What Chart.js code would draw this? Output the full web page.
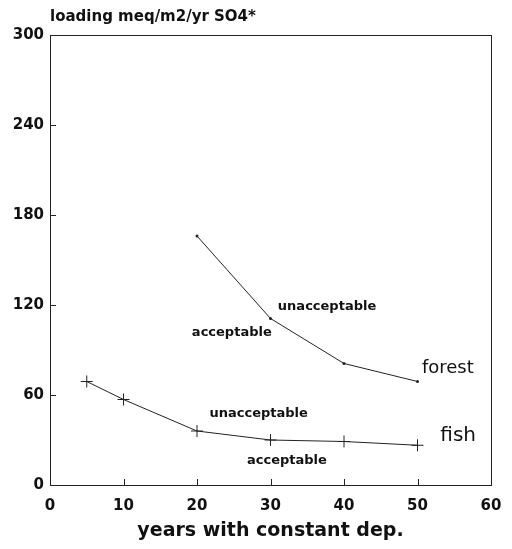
<!DOCTYPE html>
<html>
<head>
<meta charset="utf-8">
<script src="https://cdn.jsdelivr.net/npm/chart.js@4/dist/chart.umd.min.js"></script>
<style>
  html, body { margin: 0; padding: 0; background: #fff; }
  #chart { display: block; }
</style>
</head>
<body>
<canvas id="chart" width="512" height="549"></canvas>
<script>
// values
const fishYears = [5, 10, 20, 30, 40, 50];
const fishLoading = [69, 57, 36, 30, 29, 26.5];
const forestYears = [20, 30, 40, 50];
const forestLoading = [166, 111, 81, 69];

const xTicks = [0, 10, 20, 30, 40, 50, 60];
const yTicks = [0, 60, 120, 180, 240, 300];

// text labels placed in data coordinates
const notes = [
    { text: "unacceptable", x: 31.0, y: 119, size: 13, weight: "bold" },
    { text: "acceptable", x: 19.3, y: 101.5, size: 13, weight: "bold" },
    { text: "forest", x: 50.6, y: 78, size: 18, weight: "normal" },
    { text: "unacceptable", x: 21.7, y: 47.5, size: 13, weight: "bold" },
    { text: "acceptable", x: 26.8, y: 16, size: 13, weight: "bold" },
    { text: "fish", x: 53.1, y: 33, size: 20, weight: "normal" },
];

const FONT = "'DejaVu Sans', 'Liberation Sans', Arial, sans-serif";

const frameAndTicks = {
    id: "frameAndTicks",
    afterDatasetsDraw(chart) {
        const { ctx, chartArea: a, scales } = chart;
        ctx.save();
        ctx.strokeStyle = "#222";
        ctx.lineWidth = 1;
        ctx.strokeRect(a.left + 0.5, a.top + 0.5, a.right - a.left, a.bottom - a.top);
        ctx.beginPath();
        yTicks.slice(1, -1).forEach((v) => {
            const y = Math.round(scales.y.getPixelForValue(v)) + 0.5;
            ctx.moveTo(a.left, y);
            ctx.lineTo(a.left + 6, y);
        });
        xTicks.slice(1, -1).forEach((v) => {
            const x = Math.round(scales.x.getPixelForValue(v)) + 0.5;
            ctx.moveTo(x, a.bottom);
            ctx.lineTo(x, a.bottom - 6);
        });
        ctx.stroke();

        ctx.fillStyle = "#111";
        ctx.textBaseline = "middle";
        ctx.textAlign = "left";
        notes.forEach((n) => {
            ctx.font = `${n.weight} ${n.size}px ${FONT}`;
            ctx.fillText(n.text, scales.x.getPixelForValue(n.x), scales.y.getPixelForValue(n.y));
        });

        ctx.font = `bold 15px ${FONT}`;
        ctx.fillText("loading meq/m2/yr SO4*", a.left, 17);
        ctx.restore();
    },
};

new Chart(document.getElementById("chart"), {
    type: "scatter",
    data: {
        datasets: [
            {
                label: "fish",
                data: fishYears.map((x, i) => ({ x, y: fishLoading[i] })),
                showLine: true,
                borderColor: "#222",
                borderWidth: 1,
                pointStyle: "cross",
                pointRadius: 6,
                pointBorderColor: "#222",
                pointBorderWidth: 1,
            },
            {
                label: "forest",
                data: forestYears.map((x, i) => ({ x, y: forestLoading[i] })),
                showLine: true,
                borderColor: "#222",
                borderWidth: 1,
                pointStyle: "circle",
                pointRadius: 1.5,
                pointBackgroundColor: "#222",
                pointBorderColor: "#222",
                pointBorderWidth: 0,
            },
        ],
    },
    options: {
        responsive: false,
        animation: false,
        layout: { padding: { top: 35, right: 21, left: 0, bottom: 0 } },
        plugins: { legend: { display: false }, tooltip: { enabled: false } },
        scales: {
            x: {
                type: "linear",
                min: 0,
                max: 60,
                afterBuildTicks: (s) => { s.ticks = xTicks.map((v) => ({ value: v })); },
                afterFit: (s) => { s.height = 64; s.paddingLeft = 0; s.paddingRight = 0; },
                grid: { display: false, drawTicks: false },
                border: { display: false },
                ticks: {
                    padding: 12,
                    color: "#111",
                    font: { family: FONT, size: 15, weight: "bold" },
                    maxRotation: 0,
                },
                title: {
                    display: true,
                    text: "years with constant dep.",
                    color: "#111",
                    font: { family: FONT, size: 19, weight: "bold" },
                    padding: { top: 0, bottom: 7 },
                },
            },
            y: {
                type: "linear",
                min: 0,
                max: 300,
                afterBuildTicks: (s) => { s.ticks = yTicks.map((v) => ({ value: v })); },
                afterFit: (s) => { s.width = 50; s.paddingTop = 0; s.paddingBottom = 0; },
                grid: { display: false, drawTicks: false },
                border: { display: false },
                ticks: {
                    padding: 6,
                    color: "#111",
                    font: { family: FONT, size: 15, weight: "bold" },
                },
            },
        },
    },
    plugins: [frameAndTicks],
});
</script>
</body>
</html>
